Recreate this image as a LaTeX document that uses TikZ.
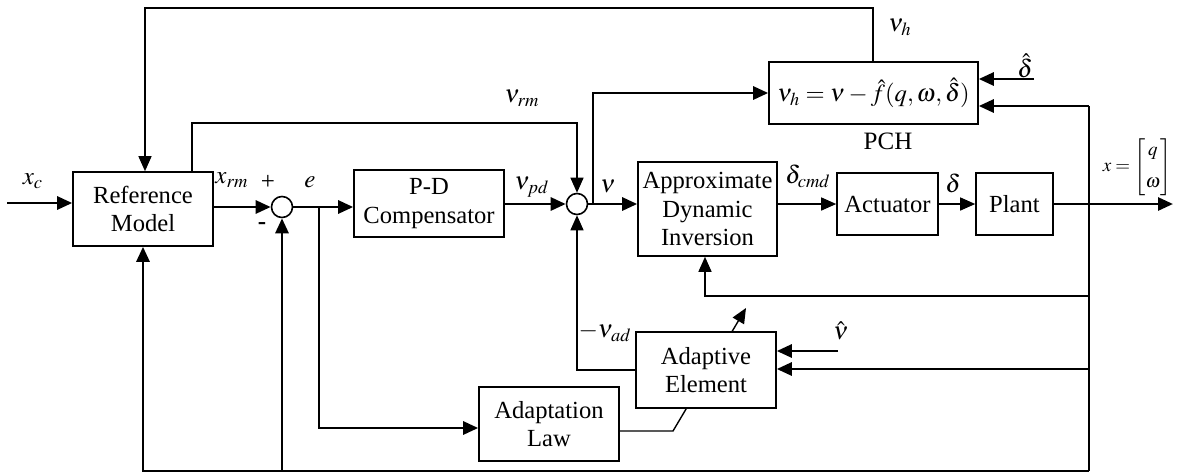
\documentclass[tikz,border=0pt]{standalone}
\usepackage{amsmath}
\usepackage{mathptmx}
\usepackage{fontspec}
\setmainfont{Liberation Serif}
\usetikzlibrary{arrows.meta,calc}
\begin{document}
\begin{tikzpicture}[x=0.5pt,y=-0.5pt,
  blk/.style={draw,line width=0.8pt,fill=white,inner sep=0pt,align=center,font=\fontsize{12.3}{14.2}\selectfont},
  sumj/.style={draw,line width=0.8pt,circle,minimum size=10.5pt,inner sep=0pt,fill=white},
  arr/.style={-{Triangle[length=7.5pt,width=6.5pt]}},
  thn/.style={line width=0.7pt},
  thk/.style={line width=1.4pt},
  mid/.style={line width=1pt},
  lbl/.style={font=\fontsize{12.5}{14}\selectfont,inner sep=0pt}]
\useasboundingbox (0,0) rectangle (1178,472);
% blocks
\node[blk,minimum width=70pt,minimum height=37pt] (ref) at (143,209) {Reference\\Model};
\node[blk,minimum width=75pt,minimum height=33.5pt] (pd) at (429,203.5) {P-D\\Compensator};
\node[blk,minimum width=69.5pt,minimum height=47pt] (adi) at (707.5,209) {Approximate\\Dynamic\\Inversion};
\node[blk,minimum width=50.5pt,minimum height=31pt] (act) at (887.5,204) {Actuator};
\node[blk,minimum width=38.5pt,minimum height=31pt] (plant) at (1014.5,204) {Plant};
\node[blk,minimum width=104.5pt,minimum height=31pt] (pch) at (873.5,93) {$\nu_h=\nu-\hat f(q,\omega,\hat\delta)$};
\node[blk,minimum width=70pt,minimum height=37pt] (al) at (549,424) {Adaptation\\Law};
\node[sumj] (s1) at (282,207) {};
\node[sumj] (s2) at (577,204) {};
% coordinates
\coordinate (xcin) at (7,203);
\coordinate (eb) at (319,207);
\coordinate (alin) at (319,428);
\coordinate (rmup) at (192,123);
\coordinate (br) at (593,204);
\coordinate (brt) at (593,93);
\coordinate (vh) at (873,8);
\coordinate (tl) at (145,8);
\coordinate (dh) at (1034,79);
\coordinate (out) at (1173,204);
\coordinate (rt) at (1089,106);
\coordinate (rb) at (1089,471);
\coordinate (fb) at (1089,296);
\coordinate (fbl) at (705,296);
\coordinate (aein) at (1089,369);
\coordinate (nuh) at (838,351);
\coordinate (bl) at (143,471);
\coordinate (bs) at (282,471);
\coordinate (vad) at (577,370);
\coordinate (alo) at (673,431);
\coordinate (adj) at (746,308);
% connectors
\draw[thk,arr] (xcin) -- (xcin -| ref.west);
\draw[thk,arr] (ref.east |- s1) -- (s1);
\draw[thk,arr] (s1) -- (pd.west |- s1);
\draw[thk,arr] (eb) -- (alin) -- (alin -| al.west);
\draw[thk,arr] (pd.east |- s2) -- (s2);
\draw[thn,arr] (rmup |- ref.north) -- (rmup) -| (s2.north);
\draw[thk,arr] (s2) -- (s2 -| adi.west);
\draw[thk,arr] (br) -- (brt) -- (brt -| pch.west);
\draw[thn,arr] (vh |- pch.north) -- (vh) -- (tl) -- (tl |- ref.north);
\draw[thk,arr] (dh) -- (dh -| pch.east);
\draw[thn,arr] (act.west -| adi.east) -- (act.west);
\draw[thn,arr] (act.east) -- (plant.west);
\draw[thk,arr] (plant.east) -- (out);
\draw[mid] (rt) -- (rb);
\draw[thk,arr] (rt) -- (rt -| pch.east);
\draw[thn,arr] (fb) -- (fbl) -- (fbl |- adi.south);
\draw[thk,arr] (rb) -- (bl) -- (ref.south);
\draw[thk,arr] (bs) -- (s1);
\draw[thn,arr] (alo -| al.east) -- (alo) -- (adj);
\node[blk,minimum width=70pt,minimum height=38pt] (ae) at (706,370) {Adaptive\\Element};
\draw[thk,arr] (aein) -- (aein -| ae.east);
\draw[thk,arr] (nuh) -- (nuh -| ae.east);
\draw[thn,arr] (vad -| ae.west) -- (vad) -- (s2);
% labels
\node[lbl] at (33,181) {$x_c$};
\node[lbl] at (232,180) {$x_{rm}$};
\node[lbl] at (268,182) {+};
\node[lbl] at (262,226) {\textbf{-}};
\node[lbl] at (310,182) {$e$};
\node[lbl] at (522,98) {$\nu_{rm}$};
\node[lbl] at (532,187) {$\nu_{pd}$};
\node[lbl] at (608,186) {$\nu$};
\node[lbl] at (808,176) {$\delta_{cmd}$};
\node[lbl] at (953,183) {$\delta$};
\node[lbl] at (900,27) {$\nu_h$};
\node[lbl] at (1025,66) {$\hat\delta$};
\node[lbl,font=\fontsize{9.5}{11}\selectfont] at (1137,167) {$x=\begin{bmatrix}q\\[5pt] \omega\end{bmatrix}$};
\node[lbl] at (605,332) {$-\nu_{ad}$};
\node[lbl] at (841,331) {$\hat\nu$};
\node[lbl] at (888,141) {PCH};
\end{tikzpicture}
\end{document}
